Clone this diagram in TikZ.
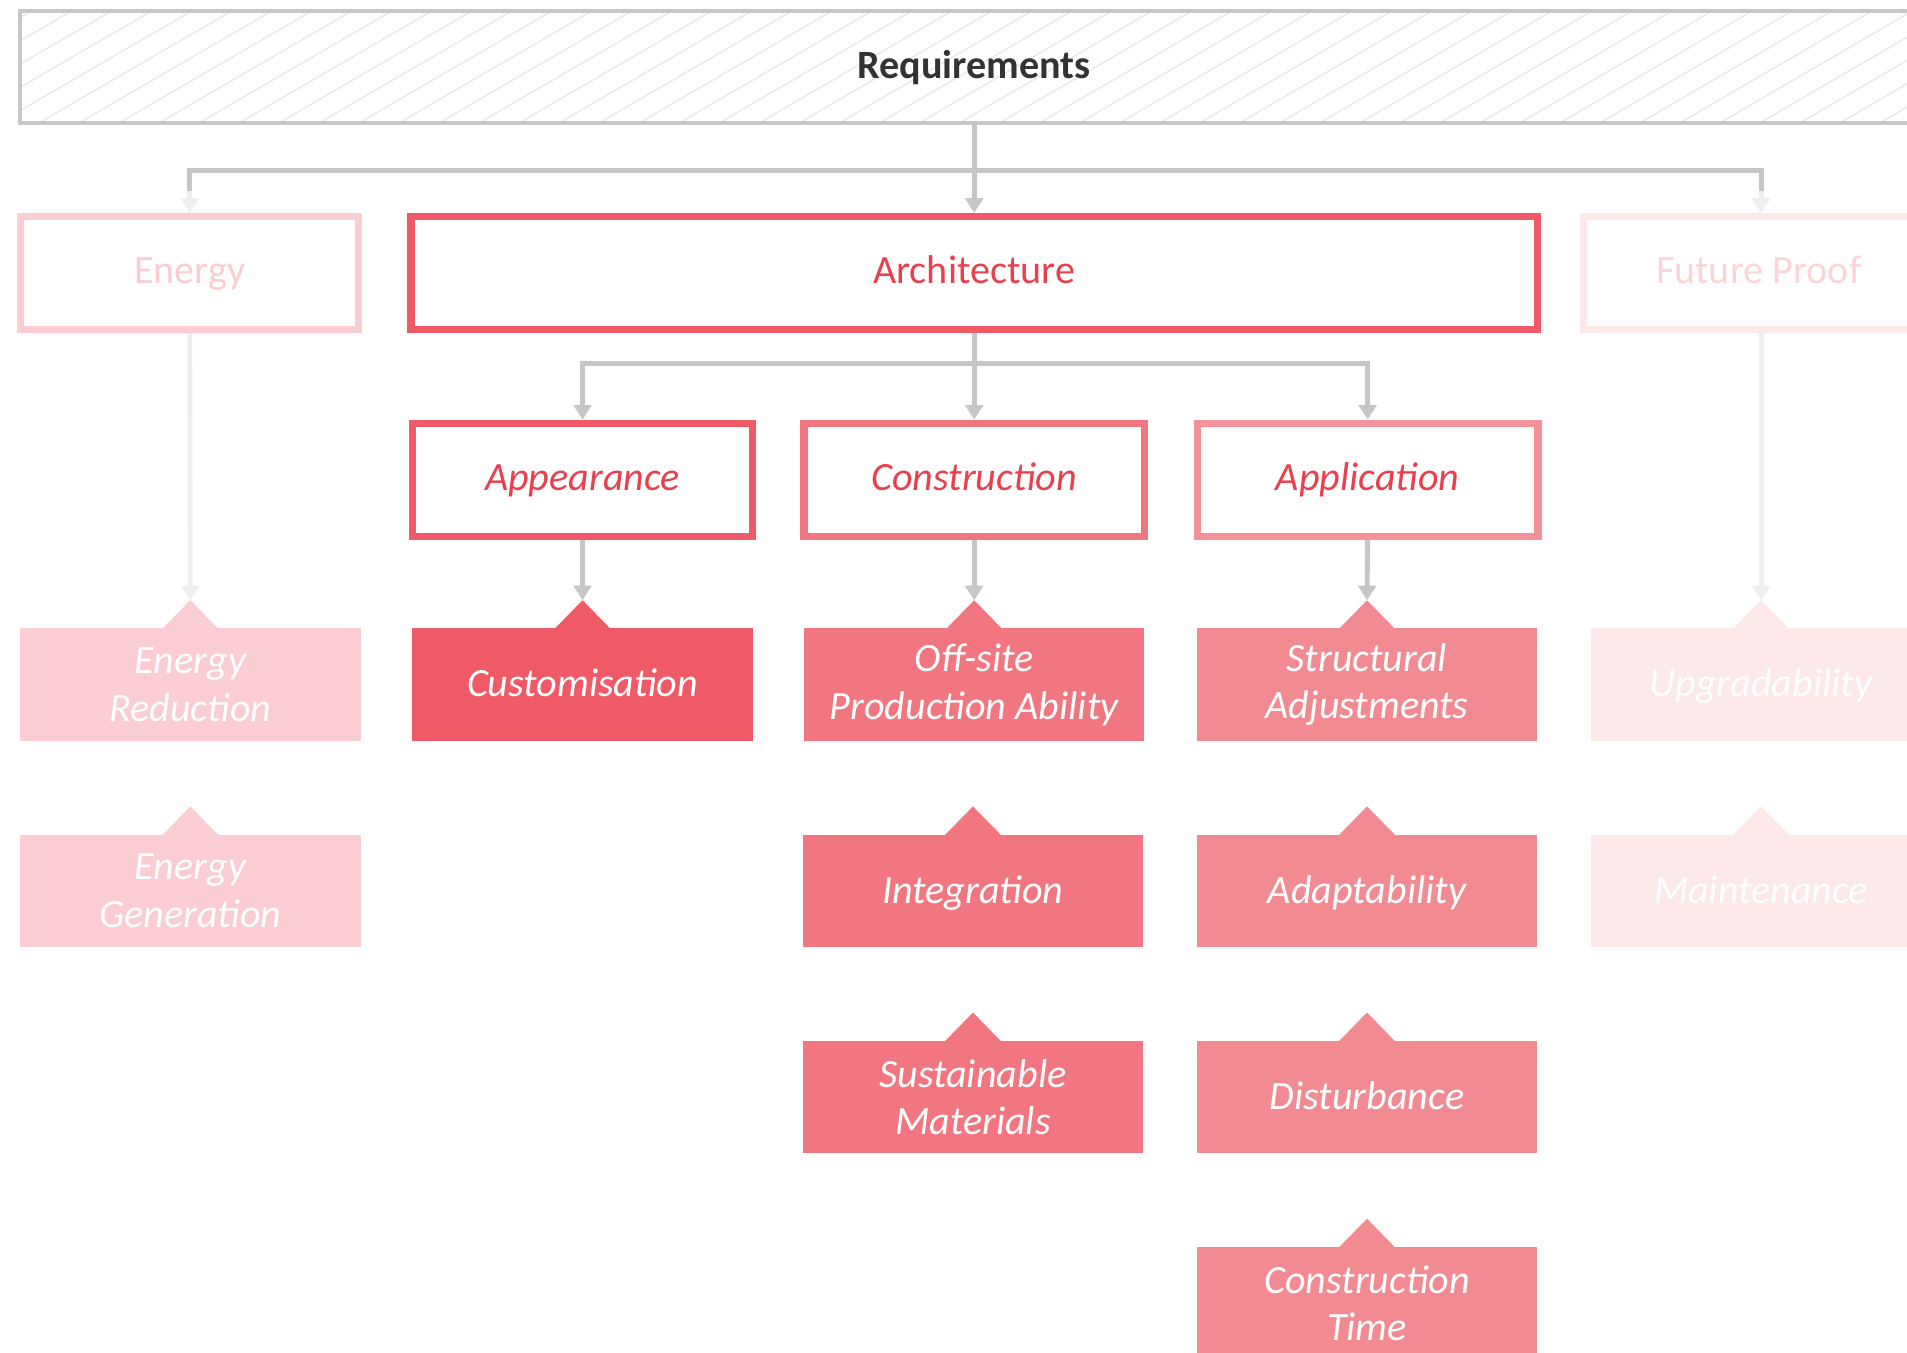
\documentclass[tikz,border=0pt]{standalone}
\usepackage{fontspec}
\setmainfont{Carlito}
\usetikzlibrary{arrows.meta,calc}
\definecolor{cgray}{HTML}{C6C6C6}
\definecolor{cfaint}{HTML}{EFEFEF}
\definecolor{creqb}{HTML}{C8C8C8}
\definecolor{chatch}{HTML}{E8E8E8}
\definecolor{ctxt}{HTML}{333333}
\definecolor{cred}{HTML}{F05A66}
\definecolor{credt}{HTML}{E8404E}
\definecolor{ccon}{HTML}{F2767F}
\definecolor{caplb}{HTML}{F4929A}
\definecolor{capf}{HTML}{F28A91}
\definecolor{cen}{HTML}{F9CDD1}
\definecolor{cfp}{HTML}{FDE8EA}
\definecolor{cfptext}{HTML}{FBD4D8}
\newcommand\mkbox[6][]{%
  \node[lthree,fill=#5,#1] (#2) at (#3,#4) {#6};
  \fill[#5] ($(#2.north)+(-23,0.5)$) -- ($(#2.north)+(0,-23)$) -- ($(#2.north)+(23,0.5)$) -- cycle;
  \coordinate (#2T) at ($(#2.north)+(0,-23)$);}
\begin{document}
\begin{tikzpicture}[x=1pt,y=-1pt,
  gline/.style={draw=cgray,line width=4pt},
  fline/.style={draw=cfaint,line width=4pt},
  tip/.style={-{Triangle[length=12pt,width=14.5pt]}},
  oneline/.style={text height=24pt,text depth=6pt},
  onelow/.style={text height=25pt,text depth=5pt},
  lone/.style={draw,line width=6pt,fill=white,inner sep=0pt,minimum width=278pt,minimum height=93pt,oneline,font=\fontsize{33}{39}\selectfont},
  ltwo/.style={lone,minimum width=280pt,font=\itshape\fontsize{33}{39}\selectfont,text=credt},
  lthree/.style={inner sep=0pt,minimum width=280pt,minimum height=92.5pt,text=white,align=center,font=\itshape\fontsize{33}{39}\selectfont},
]
\useasboundingbox (0,0) rectangle (1568,1112);
\clip (0,0) rectangle (1568,1112);
\fill[white] (0,0) rectangle (1568,1112);
% hatching of the Requirements box
\begin{scope}
  \clip (17,8) rectangle (1585,102);
  \foreach \k in {-2,...,52} {
    \draw[chatch,line width=1.1pt] ({26+32.9*\k},9) -- ({26+32.9*\k-160},102);
  }
\end{scope}
\node[draw=creqb,line width=3.3pt,inner sep=0pt,minimum width=1568.7pt,minimum height=92.3pt,oneline,
      font=\bfseries\fontsize{33}{39}\selectfont,text=ctxt] (req) at (801,55.2) {Requirements};
% level 1
\node[lone,draw=cen,text=cen] (en) at (156,224.5) {Energy};
\node[lone,draw=cred,text=credt,minimum width=926pt] (arch) at (801,224.5) {Architecture};
\node[lone,draw=cfp,text=cfptext,minimum width=288pt] (fp) at (1446,224.5) {Future Proof};
% level 2
\node[ltwo,draw=cred] (app) at (479,394.5) {Appearance};
\node[ltwo,draw=ccon] (cons) at (801,394.5) {Construction};
\node[ltwo,draw=caplb] (appl) at (1124.5,394.5) {Application};
% level 3
\mkbox{er}{156.5}{563}{cen}{Energy\\Reduction}
\mkbox{eg}{156.5}{732.5}{cen}{Energy\\Generation}
\mkbox[onelow]{cus}{479}{563}{cred}{Customisation}
\mkbox{off}{801}{563}{ccon}{Off-site\\Production Ability}
\mkbox[onelow]{int}{800}{732.5}{ccon}{Integration}
\mkbox{sus}{800}{902}{ccon}{Sustainable\\Materials}
\mkbox{str}{1124}{563}{capf}{Structural\\Adjustments}
\mkbox[onelow]{ada}{1124}{732.5}{capf}{Adaptability}
\mkbox[onelow]{dis}{1124}{902}{capf}{Disturbance}
\mkbox{ct}{1124}{1071.5}{capf}{Construction\\Time}
\mkbox[onelow]{up}{1448}{563}{cfp}{Upgradability}
\mkbox[onelow]{mai}{1448}{732.5}{cfp}{Maintenance}
% connectors
\draw[gline,tip] (req.south) -- (arch.north);
\draw[gline] (req.south) |- ($(en.north)+(0,-35)$) -- ($(en.north)+(0,-18)$);
\draw[fline,tip] ($(en.north)+(0,-18)$) -- (en.north);
\draw[gline] (req.south) |- ($(fp.north)+(2,-35)$) -- ($(fp.north)+(2,-18)$);
\draw[fline,tip] ($(fp.north)+(2,-18)$) -- ($(fp.north)+(2,0)$);
\draw[gline,tip] (arch.south) -- (cons.north);
\draw[gline,tip] (arch.south) |- ($(app.north)+(0,-46)$) -- (app.north);
\draw[gline,tip] (arch.south) |- ($(appl.north)+(0,-46)$) -- (appl.north);
\draw[gline,tip] (app.south) -- (cusT);
\draw[gline,tip] (cons.south) -- (offT);
\draw[gline,tip] (appl.south) -- (strT);
\draw[fline,tip] (en.south) -- (erT);
\draw[fline,tip] ($(fp.south)+(2,0)$) -- (upT);
\end{tikzpicture}
\end{document}
